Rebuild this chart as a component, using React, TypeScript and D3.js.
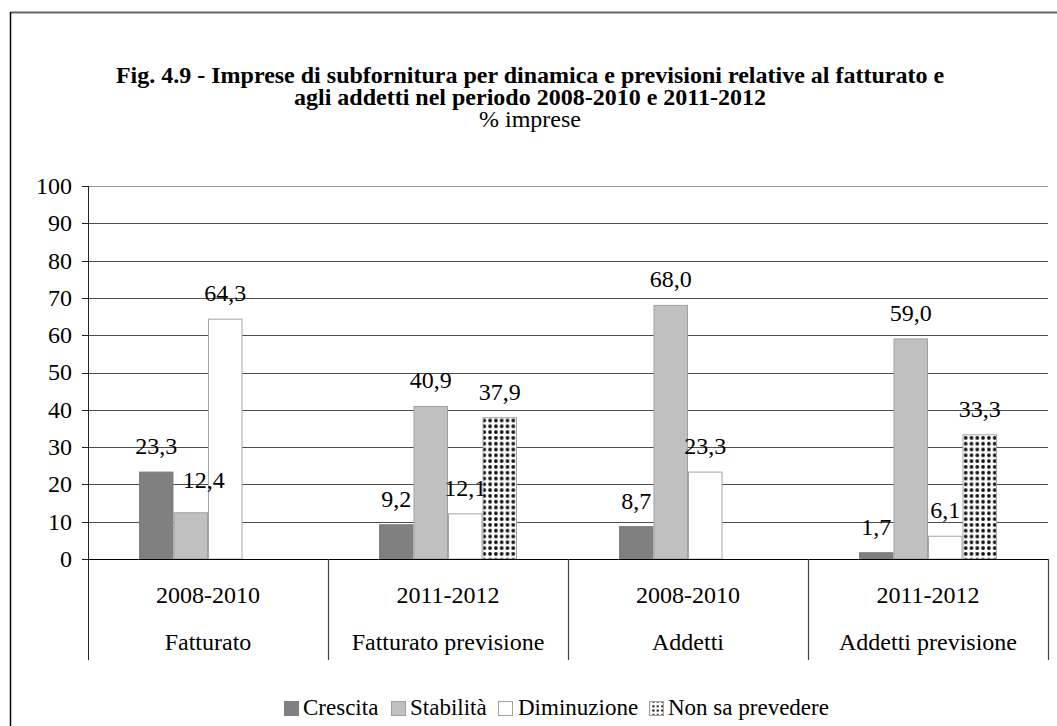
import React from "react";
import * as d3 from "d3";

const categories = ["Fatturato", "Fatturato previsione", "Addetti", "Addetti previsione"];
const periods = ["2008-2010", "2011-2012", "2008-2010", "2011-2012"];
const seriesNames = ["Crescita", "Stabilità", "Diminuzione", "Non sa prevedere"];
const crescita = [23.3, 9.2, 8.7, 1.7];
const stabilita = [12.4, 40.9, 68.0, 59.0];
const diminuzione = [64.3, 12.1, 23.3, 6.1];
const nonSaPrevedere: (number | null)[] = [null, 37.9, null, 33.3];
const yTicks = [0, 10, 20, 30, 40, 50, 60, 70, 80, 90, 100];
const titleLines = [
  "Fig. 4.9 - Imprese di subfornitura per dinamica e previsioni relative al fatturato e",
  "agli addetti nel periodo 2008-2010 e 2011-2012",
];
const subtitle = "% imprese";

const W = 1057;
const H = 726;
const FONT = "'Liberation Serif', 'Times New Roman', 'DejaVu Serif', serif";
const FS = 24;

const seriesValues = [crescita, stabilita, diminuzione, nonSaPrevedere];
const fills = ["#808080", "#c0c0c0", "#ffffff", "url(#dots)"];
const strokes = ["#808080", "#a0a0a0", "#a6a6a6", "#a6a6a6"];

const fmt = (v: number) => v.toFixed(1).replace(".", ",");

export default function App() {
  const x0 = 88, x1 = 1048;
  const yBase = 559, yTop = 186;
  const y = d3.scaleLinear().domain([0, 100]).range([yBase, yTop]);
  const xCat = d3.scaleBand<number>().domain(d3.range(categories.length)).range([x0, x1]).padding(0);
  const bw = xCat.bandwidth();
  const groupW = 138;
  const xSer = d3
    .scaleBand<number>()
    .domain(d3.range(seriesNames.length))
    .range([(bw - groupW) / 2, (bw + groupW) / 2])
    .padding(0);
  const sepBottom = 660;

  // label nudges (the reference moved one label off its bar)
  const nudge = (ci: number, si: number) => (ci === 0 && si === 1 ? { dx: 13, dy: -7 } : { dx: 0, dy: 0 });

  const legendItems = [
    { x: 284, tx: 303 },
    { x: 391, tx: 410 },
    { x: 498, tx: 518 },
    { x: 649, tx: 668 },
  ];

  return (
    <svg
      width={W}
      height={H}
      style={{ position: "absolute", left: 0, top: 0, background: "#fff" }}
      fontFamily={FONT}
    >
      <defs>
        <pattern id="dots" width={5.8} height={5.8} patternUnits="userSpaceOnUse" x={0} y={0}>
          <rect width={5.8} height={5.8} fill="#fff" />
          <circle cx={2.9} cy={2.9} r={1.85} fill="#111" />
        </pattern>
        <pattern id="dotsSmall" width={4.4} height={4.4} patternUnits="userSpaceOnUse">
          <rect width={4.4} height={4.4} fill="#fff" />
          <circle cx={2.2} cy={2.2} r={1.2} fill="#111" />
        </pattern>
      </defs>
      <rect x={0} y={0} width={W} height={H} fill="#fff" />
      {/* outer frame */}
      <line x1={10} x2={W + 2} y1={12.5} y2={12.5} stroke="#666" strokeWidth={2} />
      <line x1={10.5} x2={10.5} y1={12} y2={H + 2} stroke="#000" strokeWidth={1.5} />

      {/* title */}
      {titleLines.map((t, i) => (
        <text key={i} x={530} y={83 + i * 22} textAnchor="middle" fontWeight="bold" fontSize={FS} fill="#000">
          {t}
        </text>
      ))}
      <text x={530} y={127} textAnchor="middle" fontSize={FS} fill="#000">
        {subtitle}
      </text>

      {/* gridlines */}
      {yTicks.filter((t) => t > 0).map((t) => (
        <line
          key={t}
          x1={x0}
          x2={x1}
          y1={Math.round(y(t)) + 0.5}
          y2={Math.round(y(t)) + 0.5}
          stroke={t === 100 ? "#9a9a9a" : "#4d4d4d"}
          strokeWidth={1}
        />
      ))}

      {/* bars */}
      {categories.map((_, ci) =>
        seriesValues.map((vals, si) => {
          const v = vals[ci];
          if (v === null || v === undefined) return null;
          const bx = (xCat(ci) as number) + (xSer(si) as number);
          const by = y(v);
          return (
            <rect
              key={`${ci}-${si}`}
              x={bx + 0.5}
              y={by}
              width={xSer.bandwidth() - 1}
              height={yBase - by}
              fill={fills[si]}
              stroke={strokes[si]}
              strokeWidth={1}
            />
          );
        })
      )}

      {/* data labels */}
      {categories.map((_, ci) =>
        seriesValues.map((vals, si) => {
          const v = vals[ci];
          if (v === null || v === undefined) return null;
          const bx = (xCat(ci) as number) + (xSer(si) as number) + xSer.bandwidth() / 2;
          const n = nudge(ci, si);
          return (
            <text
              key={`l-${ci}-${si}`}
              x={bx + n.dx}
              y={y(v) - 18 + n.dy}
              textAnchor="middle"
              fontSize={FS}
              fill="#000"
            >
              {fmt(v)}
            </text>
          );
        })
      )}

      {/* x axis line */}
      <line x1={x0} x2={x1} y1={yBase + 0.5} y2={yBase + 0.5} stroke="#000" strokeWidth={1} />
      {/* y axis */}
      <line x1={x0 + 0.5} x2={x0 + 0.5} y1={yTop} y2={sepBottom} stroke="#222" strokeWidth={1} />
      {yTicks.map((t) => (
        <g key={`t${t}`}>
          <line x1={x0 - 6} x2={x0} y1={Math.round(y(t)) + 0.5} y2={Math.round(y(t)) + 0.5} stroke="#222" />
          <text x={72} y={y(t)} dy="0.33em" textAnchor="end" fontSize={FS} fill="#000">
            {t}
          </text>
        </g>
      ))}

      {/* category separators */}
      {d3.range(1, categories.length + 1).map((i) => {
        const sx = Math.round(x0 + i * bw) + 0.5;
        return <line key={`s${i}`} x1={sx} x2={sx} y1={yBase} y2={sepBottom} stroke="#444" strokeWidth={1.2} />;
      })}

      {/* category labels */}
      {categories.map((c, ci) => {
        const cx = (xCat(ci) as number) + bw / 2;
        return (
          <g key={`c${ci}`}>
            <text x={cx} y={603} textAnchor="middle" fontSize={FS} fill="#000">
              {periods[ci]}
            </text>
            <text x={cx} y={650} textAnchor="middle" fontSize={FS} fill="#000">
              {c}
            </text>
          </g>
        );
      })}

      {/* legend */}
      {seriesNames.map((s, si) => (
        <g key={`lg${si}`}>
          <rect
            x={legendItems[si].x + 0.5}
            y={701.5}
            width={14}
            height={14}
            fill={si === 3 ? "url(#dotsSmall)" : fills[si]}
            stroke={si === 0 ? "#808080" : "#a0a0a0"}
          />
          <text x={legendItems[si].tx} y={715} fontSize={23} fill="#000">
            {s}
          </text>
        </g>
      ))}
    </svg>
  );
}
